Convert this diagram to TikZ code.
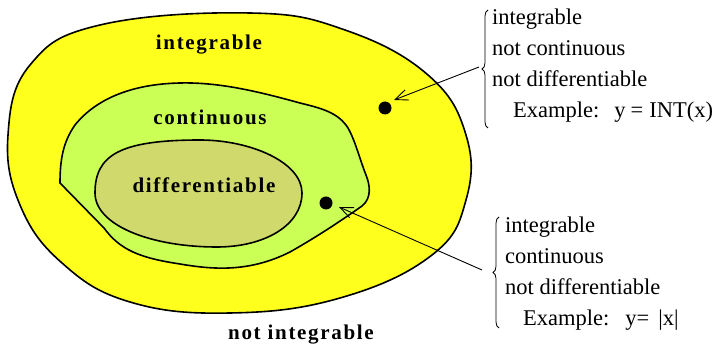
\documentclass[tikz,border=0pt]{standalone}
\usepackage{fontspec}
\setmainfont{Liberation Serif}
\usetikzlibrary{arrows.meta,decorations.pathreplacing}
\definecolor{yel}{HTML}{FFFF1E}
\definecolor{grn}{HTML}{CCFF55}
\definecolor{olv}{HTML}{CFD96C}
\tikzset{
  region/.style={draw=black,line width=1.6pt},
  lbl/.style={font=\fontsize{21}{24}\selectfont\bfseries\addfontfeature{LetterSpace=8}},
  note/.style={font=\fontsize{22.5}{31}\selectfont,align=left,anchor=north west,inner sep=0pt},
  pointer/.style={line width=0.9pt,-{Straight Barb[length=13pt,width=11pt,line width=0.9pt]}},
  dot/.style={circle,fill=black,minimum size=13pt,inner sep=0pt},
  brc/.style={decorate,decoration={brace,amplitude=6pt,mirror},line width=0.8pt}
}
\begin{document}
\begin{tikzpicture}[x=1pt,y=-1pt]
\useasboundingbox (0,0) rectangle (724,347);
% outer region
\draw[region,fill=yel] plot[smooth cycle,tension=0.7] coordinates{
 (8,135) (30,65) (100,25) (250,13) (345,30) (428,75) (466,135) (466,200)
 (432,255) (340,298) (230,313) (130,302) (62,263) (20,205)};
% middle region
\draw[region,fill=grn] (60,183) -- (104,228)
 .. controls (120,250) and (140,258) .. (180,264)
 .. controls (215,270) and (250,272) .. (290,252)
 .. controls (320,235) and (345,218) .. (362,206)
 .. controls (372,198) and (370,185) .. (366,175)
 .. controls (360,160) and (355,140) .. (348,128)
 .. controls (338,112) and (320,108) .. (300,103)
 .. controls (260,92) and (220,82) .. (180,83)
 .. controls (130,84) and (95,100) .. (75,125)
 .. controls (63,142) and (60,160) .. (60,183) -- cycle;
% inner region
\draw[region,fill=olv] (95,193)
 .. controls (95,155) and (120,140) .. (200,140)
 .. controls (250,140) and (302,162) .. (302,193)
 .. controls (302,225) and (265,247) .. (217,247)
 .. controls (150,247) and (95,225) .. (95,193) -- cycle;
\node[lbl] (lint) at (209,45) {integrable};
\node[lbl] (lcont) at (210,117) {continuous};
\node[lbl] (ldiff) at (204,185) {differentiable};
\node[lbl] (lnot) at (301,335) {not integrable};
\node[dot] (d1) at (385,108) {};
\node[dot] (d2) at (326,203) {};
% notes
\node[note] (n1) at (492,8.5) {integrable\\not continuous\\not differentiable\\\hspace*{21pt}Example:\hspace{15pt}y\hspace{5pt}=\hspace{6pt}INT(x)};
\node[note] (n2) at (505,216.5) {integrable\\continuous\\not differentiable\\\hspace*{18pt}Example:\hspace{16pt}y=\hspace{9pt}|x|};
\coordinate (b1t) at (488,10);
\coordinate (b1b) at (488,128);
\coordinate (b2t) at (499,217);
\coordinate (b2b) at (499,328);
\draw[brc] (b1t) -- (b1b);
\draw[brc] (b2t) -- (b2b);
\coordinate (s1) at (479,67);
\coordinate (s2) at (482,270);
\draw[pointer] (s1) -- (394,100);
\draw[pointer] (s2) -- (339,207);
\end{tikzpicture}
\end{document}
